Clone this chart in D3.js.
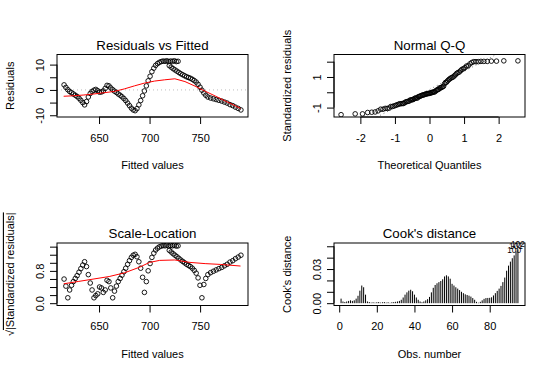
<!DOCTYPE html>
<html>
<head>
<meta charset="utf-8">
<script src="https://cdn.jsdelivr.net/npm/d3@7"></script>
<style>
  body { margin: 0; background: #fff; }
  text { font-family: "Liberation Sans", Arial, sans-serif; fill: #000; }
</style>
</head>
<body>
<div class="container"></div>
<script>
// observations in the order they run along the residual plot
var fitted = [
  615.4, 617.2, 619.1, 620.9, 622.8, 624.6, 626.5, 628.3, 630.2, 632.0, 633.9, 635.7,
  637.6, 639.4, 641.3, 643.1, 645.0, 646.8, 648.7, 650.5, 652.4, 654.2, 656.1, 657.9,
  659.8, 661.6, 663.5, 665.3, 667.2, 669.0, 670.9, 672.7, 674.6, 676.4, 678.3, 680.1, 682.0, 683.8,
  685.7, 687.5, 689.4, 691.2, 693.1, 694.9, 696.8, 698.6, 700.5, 702.3, 704.2, 706.0, 707.9, 709.7,
  711.6, 713.4, 715.3, 717.1, 719.0, 720.8, 722.7, 724.5, 726.4, 728.2,
  719.5, 721.4, 723.3, 725.2, 727.1, 729.0, 730.9, 732.8, 734.7, 736.6, 738.5, 740.4, 742.3, 744.2,
  746.1, 748.0, 749.9, 751.8, 753.7, 755.6,
  757.7, 760.4, 763.2, 765.9, 768.6, 771.4, 774.1, 776.8, 779.6, 782.3, 785.0, 787.7, 790.4
];
var resid = [
  2.0, 1.0, 0.1, -0.6, -1.1, -1.6, -2.1, -2.6, -3.3, -4.1, -5.0, -5.9,
  -4.6, -2.8, -1.4, -0.6, -0.1, 0.2, -0.3, -0.9, -0.8, -0.4, 0.6, 1.8,
  1.6, 0.8, 0.1, -0.5, -1.0, -1.6, -2.1, -2.7, -3.4, -4.2, -5.2, -6.2, -7.2, -7.9,
  -8.2, -7.4, -5.9, -4.2, -2.3, -0.4, 1.6, 3.6, 5.4, 7.2, 8.6, 9.7, 10.4, 10.9,
  11.2, 11.4, 11.3, 11.5, 11.2, 11.4, 11.3, 11.5, 11.2, 11.3,
  9.6, 9.0, 8.4, 7.9, 7.4, 6.9, 6.4, 6.0, 5.6, 5.2, 4.9, 4.6, 4.2, 3.7,
  3.1, 2.2, 1.1, -0.1, -1.2, -2.1,
  -2.8, -3.2, -3.5, -3.8, -4.1, -4.4, -4.8, -5.2, -5.8, -6.2, -6.8, -7.3, -7.9
];
var sigma = 5.6;

// red smoothers
var residSmoothX = [615, 625, 635, 645, 655, 665, 675, 685, 695, 705, 715, 725, 735, 745, 755, 765, 775, 785, 790];
var residSmoothY = [-2.5, -2.3, -2.0, -1.6, -1.1, -0.6, 0.4, 1.6, 2.7, 3.5, 4.0, 4.4, 3.3, 1.5, -0.5, -2.4, -4.4, -6.3, -7.3];
var slSmoothX = [615, 630, 645, 660, 675, 690, 700, 710, 725, 740, 755, 770, 790];
var slSmoothY = [0.48, 0.54, 0.60, 0.66, 0.75, 0.89, 1.01, 1.06, 1.07, 1.01, 0.98, 0.96, 0.92];

// Cook's distance by observation number
var cook = [
  0.004, 0.0015, 0.001, 0.0015, 0.002, 0.0025, 0.002, 0.0025, 0.004, 0.0065,
  0.011, 0.0155, 0.014, 0.0075, 0.0015, 0.001, 0.0005, 0.0008, 0.0005, 0.0008,
  0.001, 0.0005, 0.0008, 0.001, 0.0005, 0.0008, 0.0003, 0.0008, 0.001, 0.0012,
  0.0015, 0.002, 0.003, 0.005, 0.0075, 0.0095, 0.011, 0.0118, 0.0105, 0.0075,
  0.005, 0.003, 0.0015, 0.0008, 0.0015, 0.0025, 0.0035, 0.0055, 0.0095, 0.0135,
  0.016, 0.0175, 0.0185, 0.0195, 0.021, 0.0235, 0.0245, 0.0235, 0.0215, 0.017,
  0.0155, 0.014, 0.0128, 0.0115, 0.01, 0.0088, 0.0078, 0.0072, 0.0066, 0.0058,
  0.0045, 0.003, 0.0012, 0.0004, 0.0012, 0.0025, 0.0038, 0.0045, 0.0046, 0.0047,
  0.0052, 0.0068, 0.0088, 0.0108, 0.0128, 0.0152, 0.0185, 0.0225, 0.0285, 0.033,
  0.0365, 0.0395, 0.042, 0.0455, 0.0473
];
var cookIdObs = [93, 94, 95];
var cookIdLabels = ["100", "101", "102"];

// ticks
var fitTicks = [650, 700, 750], fitLabels = ["650", "700", "750"];
var resTicks = [-10, -5, 0, 5, 10], resLabels = ["-10", "", "0", "", "10"];
var qqXTicks = [-2, -1, 0, 1, 2], qqXLabels = ["-2", "-1", "0", "1", "2"];
var qqYTicks = [-1, 0, 1, 2], qqYLabels = ["-1", "", "1", ""];
var slTicks = [0, 0.2, 0.4, 0.6, 0.8, 1.0, 1.2, 1.4], slLabels = ["0.0", "", "", "", "0.8", "", "", ""];
var obsTicks = [0, 20, 40, 60, 80], obsLabels = ["0", "20", "40", "60", "80"];
var cookTicks = [0, 0.01, 0.02, 0.03, 0.04, 0.05], cookLabels = ["0.00", "", "", "0.03", "", ""];

const WIDTH = 554, HEIGHT = 376;
const COLS = [57, 334], ROWS = [54.5, 243];
const BOX_W = 191, BOX_H = 62.5;

var translate = function(x, y){ return "translate(" + x + "," + y + ")"; };

var svg = d3.select('.container').append('svg')
  .attr('width', WIDTH).attr('height', HEIGHT)
  .style('display', 'block');

// R extends the axis range by 4% on each side
var usr = function(d){ var r = d[1] - d[0]; return [d[0] - 0.04 * r, d[1] + 0.04 * r]; };

var clipId = 0;
var makePanel = function(col, row, xlim, ylim, title){
  var p = {};
  p.x = d3.scaleLinear().domain(usr(xlim)).range([0, BOX_W]);
  p.y = d3.scaleLinear().domain(usr(ylim)).range([BOX_H, 0]);
  p.g = svg.append('g').attr('transform', translate(COLS[col], ROWS[row]));
  var id = 'clip' + (clipId++);
  p.g.append('clipPath').attr('id', id).append('rect')
    .attr('width', BOX_W).attr('height', BOX_H);
  p.plot = p.g.append('g').attr('clip-path', 'url(#' + id + ')');
  p.g.append('text').attr('x', BOX_W / 2).attr('y', -9.5)
    .attr('text-anchor', 'middle').attr('dy', '0.35em')
    .style('font-size', '13.3px').text(title);
  return p;
};

var styleAxis = function(a){
  a.attr('font-family', null).attr('font-size', null).style('color', '#000');
  a.select('.domain').remove();
  a.selectAll('text').style('font-size', '11px');
};

var bottomAxis = function(p, ticks, labels, title){
  var ax = d3.axisBottom(p.x).tickValues(ticks).tickSize(7)
    .tickFormat(function(d, i){ return labels[i]; });
  var a = p.g.append('g').attr('transform', translate(0, BOX_H)).call(ax);
  styleAxis(a);
  a.append('line').attr('x1', p.x(ticks[0])).attr('x2', p.x(ticks[ticks.length - 1]))
    .attr('stroke', '#000');
  a.selectAll('.tick text').attr('y', 21).attr('dy', '0.35em');
  p.g.append('text').attr('x', BOX_W / 2).attr('y', BOX_H + 48.5).attr('dy', '0.35em')
    .attr('text-anchor', 'middle').style('font-size', '11px').text(title);
};

var leftAxis = function(p, ticks, labels, title){
  var ax = d3.axisLeft(p.y).tickValues(ticks).tickSize(7)
    .tickFormat(function(d, i){ return labels[i]; });
  var a = p.g.append('g').call(ax);
  styleAxis(a);
  a.append('line').attr('y1', p.y(ticks[0])).attr('y2', p.y(ticks[ticks.length - 1]))
    .attr('stroke', '#000');
  a.selectAll('.tick text').attr('x', null).attr('dy', '0.35em')
    .attr('text-anchor', 'middle').attr('transform', 'translate(-17,0) rotate(-90)');
  var t = p.g.append('text').attr('transform', translate(-47, BOX_H / 2) + ' rotate(-90)')
    .attr('text-anchor', 'middle').attr('dy', '0.35em').style('font-size', '11px');
  if (typeof title === 'string') t.text(title);
  else title(t);
};

var box = function(p){
  p.g.append('rect').attr('width', BOX_W).attr('height', BOX_H)
    .attr('fill', 'none').attr('stroke', '#000');
};

var circles = function(p, xs, ys){
  p.plot.selectAll('circle.pt').data(xs).enter().append('circle')
    .attr('class', 'pt')
    .attr('cx', function(d){ return p.x(d); })
    .attr('cy', function(d, i){ return p.y(ys[i]); })
    .attr('r', 2.3).attr('fill', 'none').attr('stroke', '#000').attr('stroke-width', 0.9);
};

var redLine = function(p, xs, ys){
  var line = d3.line().curve(d3.curveLinear)
    .x(function(d){ return p.x(d); })
    .y(function(d, i){ return p.y(ys[i]); });
  p.plot.append('path').attr('d', line(xs)).attr('fill', 'none')
    .attr('stroke', '#ff0000').attr('stroke-width', 1);
};

// inverse normal CDF (Acklam), for the theoretical quantiles
var qnorm = function(p){
  var a = [-39.69683028665376, 220.9460984245205, -275.9285104469687, 138.3577518672690, -30.66479806614716, 2.506628277459239];
  var b = [-54.47609879822406, 161.5858368580409, -155.6989798598866, 66.80131188771972, -13.28068155288572];
  var c = [-0.007784894002430293, -0.3223964580411365, -2.400758277161838, -2.549732539343734, 4.374664141464968, 2.938163982698783];
  var dd = [0.007784695709041462, 0.3224671290700398, 2.445134137142996, 3.754408661907416];
  var q, r;
  if (p < 0.02425) {
    q = Math.sqrt(-2 * Math.log(p));
    return (((((c[0]*q+c[1])*q+c[2])*q+c[3])*q+c[4])*q+c[5]) / ((((dd[0]*q+dd[1])*q+dd[2])*q+dd[3])*q+1);
  } else if (p > 1 - 0.02425) {
    q = Math.sqrt(-2 * Math.log(1 - p));
    return -(((((c[0]*q+c[1])*q+c[2])*q+c[3])*q+c[4])*q+c[5]) / ((((dd[0]*q+dd[1])*q+dd[2])*q+dd[3])*q+1);
  }
  q = p - 0.5; r = q * q;
  return (((((a[0]*r+a[1])*r+a[2])*r+a[3])*r+a[4])*r+a[5])*q / (((((b[0]*r+b[1])*r+b[2])*r+b[3])*r+b[4])*r+1);
};

var stdResid = resid.map(function(r){ return r / sigma; });
var fitRange = d3.extent(fitted);

// 1. Residuals vs Fitted
(function(){
  var ext = d3.extent(resid), f = 0.08 * (ext[1] - ext[0]);
  var p = makePanel(0, 0, fitRange, [ext[0] - f, ext[1] + f], 'Residuals vs Fitted');
  p.plot.append('line').attr('x1', 0).attr('x2', BOX_W)
    .attr('y1', p.y(0)).attr('y2', p.y(0))
    .attr('stroke', '#bebebe').attr('stroke-dasharray', '1,3');
  circles(p, fitted, resid);
  redLine(p, residSmoothX, residSmoothY);
  box(p);
  bottomAxis(p, fitTicks, fitLabels, 'Fitted values');
  leftAxis(p, resTicks, resLabels, 'Residuals');
})();

// 2. Normal Q-Q
(function(){
  var n = stdResid.length;
  var sorted = stdResid.slice().sort(d3.ascending);
  var theo = sorted.map(function(d, i){ return qnorm((i + 1 - 0.5) / n); });
  var ext = d3.extent(sorted);
  var ylim = [ext[0], ext[1] + 0.075 * (ext[1] - ext[0])];
  var p = makePanel(1, 0, d3.extent(theo), ylim, 'Normal Q-Q');
  var y1 = d3.quantile(sorted, 0.25), y2 = d3.quantile(sorted, 0.75);
  var x1 = qnorm(0.25), x2 = qnorm(0.75);
  var slope = (y2 - y1) / (x2 - x1), icpt = y1 - slope * x1;
  var xd = p.x.domain();
  p.plot.append('line')
    .attr('x1', p.x(xd[0])).attr('y1', p.y(icpt + slope * xd[0]))
    .attr('x2', p.x(xd[1])).attr('y2', p.y(icpt + slope * xd[1]))
    .attr('stroke', '#7f7f7f').attr('stroke-dasharray', '1,3');
  circles(p, theo, sorted);
  box(p);
  bottomAxis(p, qqXTicks, qqXLabels, 'Theoretical Quantiles');
  leftAxis(p, qqYTicks, qqYLabels, 'Standardized residuals');
})();

// 3. Scale-Location
(function(){
  var sq = stdResid.map(function(d){ return Math.sqrt(Math.abs(d)); });
  var p = makePanel(0, 1, fitRange, [0, d3.max(sq)], 'Scale-Location');
  circles(p, fitted, sq);
  redLine(p, slSmoothX, slSmoothY);
  box(p);
  bottomAxis(p, fitTicks, fitLabels, 'Fitted values');
  leftAxis(p, slTicks, slLabels, function(t){
    t.append('tspan').text('\u221A');
    t.append('tspan').style('text-decoration', 'overline').text('|Standardized residuals|');
  });
})();

// 4. Cook's distance
(function(){
  var n = cook.length;
  var obs = d3.range(1, n + 1);
  var p = makePanel(1, 1, [1, n], [0, d3.max(cook) * 1.075], "Cook's distance");
  p.plot.selectAll('line.bar').data(obs).enter().append('line')
    .attr('class', 'bar')
    .attr('x1', function(d){ return p.x(d); }).attr('x2', function(d){ return p.x(d); })
    .attr('y1', p.y(0)).attr('y2', function(d, i){ return p.y(cook[i]); })
    .attr('stroke', '#000').attr('stroke-width', 1);
  box(p);
  p.g.selectAll('text.id').data(cookIdObs).enter().append('text')
    .attr('class', 'id')
    .attr('x', function(d){ return p.x(d); })
    .attr('y', function(d){ return p.y(cook[d - 1]) - 2; })
    .attr('text-anchor', 'middle').style('font-size', '8.3px')
    .text(function(d, i){ return cookIdLabels[i]; });
  bottomAxis(p, obsTicks, obsLabels, 'Obs. number');
  leftAxis(p, cookTicks, cookLabels, "Cook's distance");
})();
</script>
</body>
</html>
